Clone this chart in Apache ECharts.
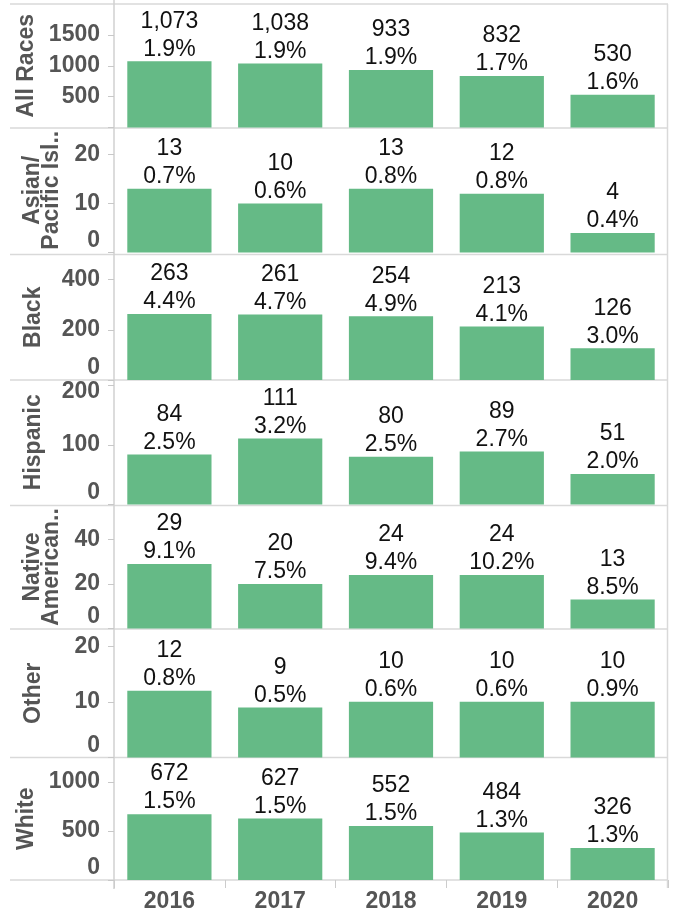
<!DOCTYPE html>
<html>
<head>
<meta charset="utf-8">
<script src="https://cdn.jsdelivr.net/npm/echarts@6/dist/echarts.min.js"></script>
<style>
  html, body { margin: 0; padding: 0; background: #fff; }
  #chart { width: 673px; height: 921px; }
</style>
</head>
<body>
<div id="chart"></div>
<script>
// ---- data ----
const years = ['2016', '2017', '2018', '2019', '2020'];
const groupNames = ['All Races', 'Asian/\nPacific Isl..', 'Black', 'Hispanic', 'Native\nAmerican..', 'Other', 'White'];

const allRacesCounts = [1073, 1038, 933, 832, 530];
const allRacesPct    = [1.9, 1.9, 1.9, 1.7, 1.6];
const asianCounts    = [13, 10, 13, 12, 4];
const asianPct       = [0.7, 0.6, 0.8, 0.8, 0.4];
const blackCounts    = [263, 261, 254, 213, 126];
const blackPct       = [4.4, 4.7, 4.9, 4.1, 3.0];
const hispanicCounts = [84, 111, 80, 89, 51];
const hispanicPct    = [2.5, 3.2, 2.5, 2.7, 2.0];
const nativeCounts   = [29, 20, 24, 24, 13];
const nativePct      = [9.1, 7.5, 9.4, 10.2, 8.5];
const otherCounts    = [12, 9, 10, 10, 10];
const otherPct       = [0.8, 0.5, 0.6, 0.6, 0.9];
const whiteCounts    = [672, 627, 552, 484, 326];
const whitePct       = [1.5, 1.5, 1.5, 1.3, 1.3];

// axis extents and tick steps per panel
const axisMax      = [2000, 25.4, 500, 209, 55.3, 23.1, 1250];
const axisInterval = [500, 10, 200, 100, 20, 10, 500];

const counts = [allRacesCounts, asianCounts, blackCounts, hispanicCounts, nativeCounts, otherCounts, whiteCounts];
const pcts   = [allRacesPct, asianPct, blackPct, hispanicPct, nativePct, otherPct, whitePct];

// ---- layout ----
const panelTop    = [4, 128, 254.5, 380, 505.5, 629, 757.5];
const panelBottom = [127.5, 252.5, 380, 504.5, 628.5, 757.5, 880];
const plotLeft = 114, plotRight = 668, W = 673;
const FONT = "'Liberation Sans', Arial, Helvetica, sans-serif";
const GREY_TXT = '#555555';
const BAR = '#65BA86';
const LINE = '#d9d9d9';

const grids = [], xAxes = [], yAxes = [], series = [];
for (let i = 0; i < counts.length; i++) {
  grids.push({ left: plotLeft, right: W - plotRight, top: panelTop[i], height: panelBottom[i] - panelTop[i] });
  const last = i === counts.length - 1;
  xAxes.push({
    type: 'category', gridIndex: i, data: years, show: last,
    axisLine: { show: false },
    axisTick: { show: last, length: 8, lineStyle: { color: '#cccccc' } },
    axisLabel: { show: last, margin: 10, fontSize: 23, fontWeight: 'bold', color: GREY_TXT, fontFamily: FONT }
  });
  const idx = i;
  yAxes.push({
    type: 'value', gridIndex: i, min: 0, max: axisMax[i], interval: axisInterval[i],
    name: groupNames[i], nameLocation: 'middle', nameRotate: 90, nameGap: 90,
    nameTextStyle: { fontSize: 23, fontWeight: 'bold', color: GREY_TXT, fontFamily: FONT, lineHeight: 19, verticalAlign: 'top' },
    axisLine: { show: false },
    axisTick: { show: true, length: 6, lineStyle: { color: '#c8c8c8' } },
    splitLine: { show: false },
    axisLabel: {
      margin: 14, fontSize: 23, fontWeight: 'bold', color: GREY_TXT, fontFamily: FONT,
      showMaxLabel: false,
      formatter: function (v) {
        if (v === 0) return idx === 0 ? '' : '{z|0}';
        if (idx === 3 && v === 200) return '{d|200}';
        return String(v);
      },
      rich: {
        z: { fontSize: 23, fontWeight: 'bold', color: GREY_TXT, fontFamily: FONT, padding: [0, 0, 24, 0] },
        d: { fontSize: 23, fontWeight: 'bold', color: GREY_TXT, fontFamily: FONT, padding: [13, 0, 0, 0] }
      }
    }
  });
  const c = counts[i], p = pcts[i];
  series.push({
    type: 'bar', xAxisIndex: i, yAxisIndex: i, data: c,
    barCategoryGap: '24%',
    itemStyle: { color: BAR },
    label: {
      show: true, position: 'top', distance: -2,
      fontSize: 23, lineHeight: 28, color: '#111', fontFamily: FONT,
      formatter: function (prm) {
        return c[prm.dataIndex].toLocaleString('en-US') + '\n' + p[prm.dataIndex].toFixed(1) + '%';
      }
    }
  });
}

// separator / frame lines
const graphics = [];
const seps = panelTop.concat([panelBottom[panelBottom.length - 1]]);
seps.forEach(function (y) {
  graphics.push({ type: 'line', shape: { x1: 10, y1: y, x2: plotRight, y2: y }, style: { stroke: LINE, lineWidth: 1.5 }, z: 0 });
});
graphics.push({ type: 'line', shape: { x1: plotLeft, y1: 0, x2: plotLeft, y2: 889 }, style: { stroke: '#d0d0d0', lineWidth: 1.5 }, z: 0 });
graphics.push({ type: 'line', shape: { x1: plotRight - 0.5, y1: panelTop[0], x2: plotRight - 0.5, y2: 888 }, style: { stroke: LINE, lineWidth: 1.5 }, z: 0 });

const chart = echarts.init(document.getElementById('chart'), null, { renderer: 'canvas' });
chart.setOption({
  animation: false,
  backgroundColor: '#ffffff',
  grid: grids, xAxis: xAxes, yAxis: yAxes, series: series,
  graphic: graphics
});
</script>
</body>
</html>
